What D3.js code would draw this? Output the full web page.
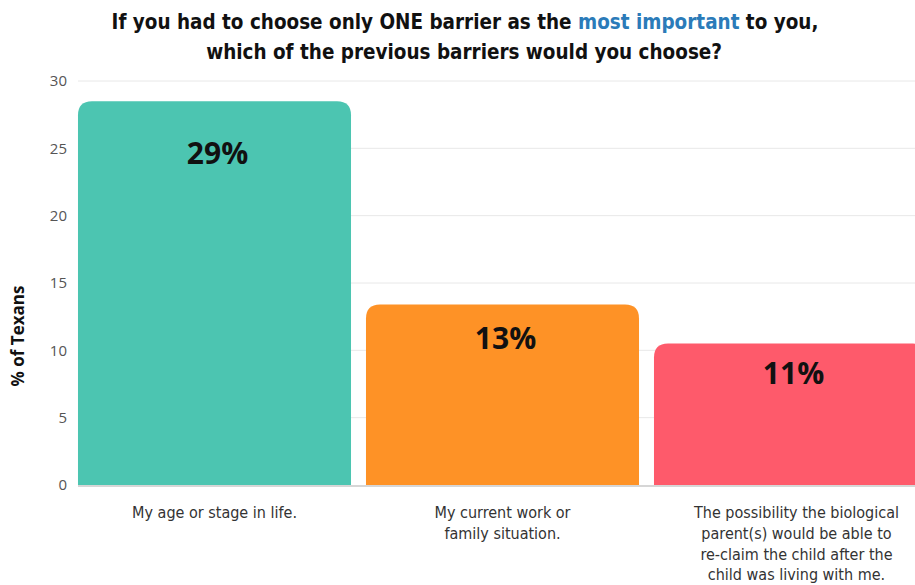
<!DOCTYPE html>
<html>
<head>
<meta charset="utf-8">
<script src="https://cdn.jsdelivr.net/npm/d3@7"></script>
<style>
  html, body { margin: 0; padding: 0; background: #fff; }
  svg { display: block; }
</style>
</head>
<body>
<svg id="chart" width="915" height="585"></svg>
<script>
// Survey answers: share of respondents picking each barrier as most important
const categories = [
  "My age or stage in life.",
  "My current work or family situation.",
  "The possibility the biological parent(s) would be able to re-claim the child after the child was living with me."
];
const categoryLines = [
  ["My age or stage in life."],
  ["My current work or", "family situation."],
  ["The possibility the biological", "parent(s) would be able to", "re-claim the child after the", "child was living with me."]
];
const values = [28.5, 13.4, 10.5];
const barColors = ["#4cc5b1", "#fe9226", "#fe5a6b"];
const yTicks = [0, 5, 10, 15, 20, 25, 30];

const W = 915, H = 585;
const margin = { top: 81, bottom: 100, left: 70.5 };
const svg = d3.select("#chart");

const condensed = "'DejaVu Sans Condensed', 'Liberation Sans Narrow', 'Arial Narrow', sans-serif";

const x = d3.scaleBand()
  .domain(categories)
  .range([margin.left, margin.left + 864])
  .paddingInner(0.052)
  .paddingOuter(0.026);

const y = d3.scaleLinear()
  .domain([0, 30])
  .range([H - margin.bottom, margin.top]);

// Title (two lines, squeezed horizontally for a condensed look)
const titleG = svg.append("g")
  .attr("transform", "translate(465,0) scale(0.93,1)");
const title = titleG.append("text")
  .attr("x", 0)
  .attr("y", 29)
  .attr("text-anchor", "middle")
  .style("font-family", condensed)
  .style("font-weight", "bold")
  .style("font-size", "22px")
  .attr("fill", "#111");
title.append("tspan").text("If you had to choose only ONE barrier as the ");
title.append("tspan").attr("fill", "#2b7bb9").text("most important");
title.append("tspan").text(" to you,");
titleG.append("text")
  .attr("x", -1)
  .attr("y", 59)
  .attr("text-anchor", "middle")
  .style("font-family", condensed)
  .style("font-weight", "bold")
  .style("font-size", "22px")
  .attr("fill", "#111")
  .text("which of the previous barriers would you choose?");

// Gridlines
svg.append("g")
  .selectAll("line")
  .data(yTicks.filter(t => t > 0))
  .join("line")
  .attr("x1", 78).attr("x2", W)
  .attr("y1", d => y(d)).attr("y2", d => y(d))
  .attr("stroke", "#e8e8e8")
  .attr("stroke-width", 1);

// Y axis labels
const yAxis = svg.append("g")
  .attr("transform", `translate(${67},0)`)
  .call(d3.axisLeft(y).tickValues(yTicks).tickSize(0).tickPadding(0));
yAxis.select(".domain").remove();
yAxis.selectAll("text")
  .style("font-family", "'Open Sans', sans-serif")
  .style("font-size", "15px")
  .attr("fill", "#555");

svg.append("text")
  .attr("transform", `translate(24,336) rotate(-90)`)
  .attr("text-anchor", "middle")
  .style("font-family", "'Open Sans', sans-serif")
  .style("font-weight", "bold")
  .style("font-size", "17px")
  .attr("fill", "#111")
  .text("% of Texans");

// Bars with rounded top corners
const r = 14;
function topRounded(x0, y0, w, h) {
  const rr = Math.min(r, h, w / 2);
  return `M${x0},${y0 + h}V${y0 + rr}Q${x0},${y0} ${x0 + rr},${y0}` +
         `H${x0 + w - rr}Q${x0 + w},${y0} ${x0 + w},${y0 + rr}V${y0 + h}Z`;
}
svg.append("g")
  .selectAll("path")
  .data(values)
  .join("path")
  .attr("d", (d, i) => topRounded(x(categories[i]), y(d), x.bandwidth(), y(0) - y(d)))
  .attr("fill", (d, i) => barColors[i]);

// Baseline
svg.append("line")
  .attr("x1", 78).attr("x2", W)
  .attr("y1", y(0) + 1).attr("y2", y(0) + 1)
  .attr("stroke", "#d6d6d6")
  .attr("stroke-width", 2);

// Value labels
svg.append("g")
  .selectAll("text")
  .data(values)
  .join("text")
  .attr("x", (d, i) => x(categories[i]) + x.bandwidth() / 2 + 3)
  .attr("y", d => y(d) + 28 + d * 1.22)
  .attr("text-anchor", "middle")
  .style("font-family", "'Open Sans', sans-serif")
  .style("font-weight", "bold")
  .style("font-size", "30px")
  .attr("fill", "#111")
  .text(d => Math.round(d) + "%");

// Category labels
const cat = svg.append("g")
  .selectAll("text")
  .data(categories)
  .join("text")
  .attr("x", (d, i) => x(d) + x.bandwidth() / 2 + (i === 2 ? 6 : 0))
  .attr("y", 518)
  .attr("text-anchor", "middle")
  .style("font-family", condensed)
  .style("font-size", "16px")
  .attr("fill", "#333");
cat.selectAll("tspan")
  .data((d, i) => categoryLines[i])
  .join("tspan")
  .attr("x", function () { return d3.select(this.parentNode).attr("x"); })
  .attr("dy", (d, i) => i === 0 ? 0 : 20.8)
  .text(d => d);
</script>
</body>
</html>
